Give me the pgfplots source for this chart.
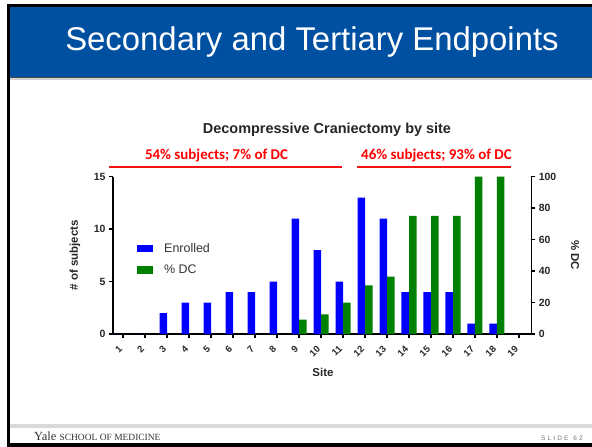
\documentclass[border=0pt]{standalone}
\usepackage{pgfplots}
\pgfplotsset{compat=1.18}
\usepackage{fontspec}
\setmainfont{Liberation Sans}
\newfontfamily\calibri{Carlito}
\newfontfamily\seriffont{Liberation Serif}
\definecolor{hdr}{RGB}{0,80,162}
\definecolor{barblue}{RGB}{0,0,255}
\definecolor{bargreen}{RGB}{0,128,0}
\definecolor{annred}{RGB}{240,20,20}
\begin{document}
\begin{tikzpicture}
\begin{scope}[x=1bp,y=-1bp]
\useasboundingbox (0,0) rectangle (592,447);
\fill[white] (0,0) rectangle (592,447);
\fill[hdr] (9,7) rectangle (592,77);
\fill[black!70] (9,77) rectangle (592,78);
\fill[black!18] (9,78) rectangle (592,80);
\fill[black] (7,4.5) rectangle (592,7);
\fill[black] (7,4.5) rectangle (9.5,447);
\fill[black] (7,443) rectangle (592,447);
\fill[black!15] (9.5,424) rectangle (592,428);
\node[white, font=\fontsize{33}{36}\selectfont, anchor=base, inner sep=0pt] at (312,51) {Secondary and Tertiary Endpoints};
\node[font=\bfseries\fontsize{14.5}{16}\selectfont, anchor=base, inner sep=0pt, text=black!85] at (327,134) {Decompressive Craniectomy by site};
\node[font=\calibri\bfseries\fontsize{15}{17}\selectfont, anchor=base, inner sep=0pt, text=red] at (216.5,160) {54\% subjects; 7\% of DC};
\node[font=\calibri\bfseries\fontsize{15}{17}\selectfont, anchor=base, inner sep=0pt, text=red] at (436.5,160) {46\% subjects; 93\% of DC};
\draw[annred, line width=1.3bp] (109,167) -- (342,167);
\draw[annred, line width=1.3bp] (357,167) -- (511,167);
\node[font=\seriffont\fontsize{12.5}{14}\selectfont, anchor=base west, inner sep=0pt, text=black!80] at (34,440) {Yale \fontsize{9.5}{11}\selectfont SCHOOL OF MEDICINE};
\node[font=\fontsize{6.5}{8}\selectfont, anchor=base east, inner sep=0pt, text=black!55] at (583,440) {S\,\,L\,\,I\,\,D\,\,E\,\,\, 6\,\,2};
\end{scope}
\pgfplotsset{
  common/.style={
    at={(113bp,-334bp)}, anchor=south west,
    scale only axis, width=418.3bp, height=157.5bp,
    xmin=0.545, xmax=19.56,
    tick align=outside, major tick length=4bp,
    axis line style={black, line width=1.3bp},
    every tick/.style={black, line width=1.1bp},
    tick label style={font=\bfseries\fontsize{10.5}{12}\selectfont, text=black!85},
    /pgf/number format/assume math mode=true,
    label style={font=\bfseries\fontsize{11.5}{13}\selectfont, text=black!85},
  }
}
\begin{axis}[common,
  ymin=0, ymax=15,
  axis x line*=bottom, axis y line*=left,
  xtick={1,...,19},
  xticklabel shift=7bp,
  xticklabel style={rotate=45, anchor=east, font=\bfseries\fontsize{9.5}{11}\selectfont},
  ytick={0,5,10,15},
  xlabel={Site},
  xlabel style={at={(axis description cs:0.502,-0.241)}, anchor=center},
  ylabel={\# of subjects},
  ylabel style={at={(axis description cs:-0.0908,0.5)}, anchor=center, rotate=0},
  legend cell align=left,
  legend image code/.code={\fill[#1,draw=none] (0bp,-3.8bp) rectangle (16bp,3.8bp);},
  legend style={draw=none, fill=none, at={(axis description cs:0.0574,0.59)}, anchor=north west,
    font=\fontsize{12.5}{14}\selectfont, text=black!80, inner sep=0pt, row sep=7bp,
    /tikz/every odd column/.append style={column sep=9bp}},
]
\addplot[ybar, bar width=7.5bp, bar shift=-3.75bp, fill=barblue, draw=none]
  coordinates {(1,0) (2,0) (3,2) (4,3) (5,3) (6,4) (7,4) (8,5) (9,11) (10,8)
               (11,5) (12,13) (13,11) (14,4) (15,4) (16,4) (17,1) (18,1) (19,0)};
\addlegendentry{Enrolled}
\addlegendimage{fill=bargreen}
\addlegendentry{\% DC}
\end{axis}
\begin{axis}[common,
  ymin=0, ymax=100,
  axis x line=none, axis y line*=right,
  ytick={0,20,...,100},
  ylabel={\% DC},
  ylabel style={at={(axis description cs:1.1045,0.5)}, anchor=center, rotate=180},
]
\addplot[ybar, bar width=7.5bp, bar shift=3.75bp, fill=bargreen, draw=none]
  coordinates {(9,9.1) (10,12.5) (11,20) (12,30.8) (13,36.4) (14,75) (15,75)
               (16,75) (17,100) (18,100)};
\end{axis}
\end{tikzpicture}
\end{document}
